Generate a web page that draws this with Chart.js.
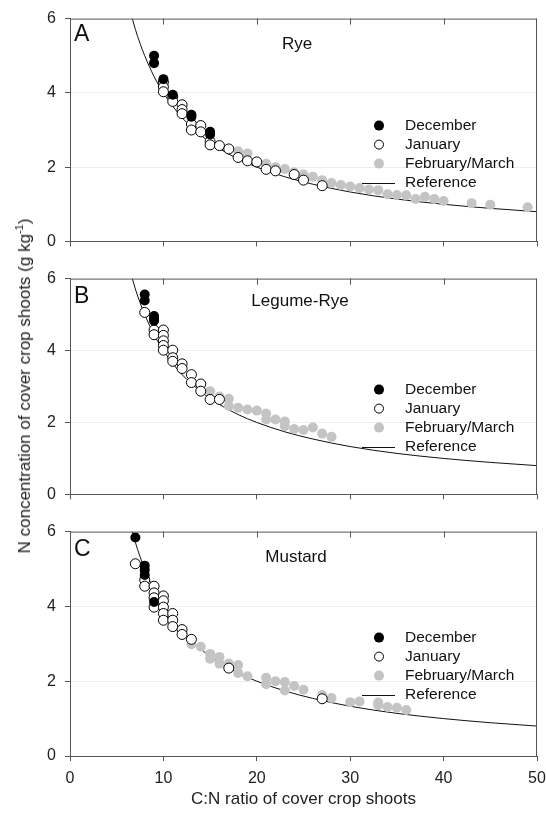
<!DOCTYPE html>
<html>
<head>
<meta charset="utf-8">
<script src="https://cdn.jsdelivr.net/npm/chart.js@4"></script>
<style>
  body { margin: 0; background: #fff; }
  #wrap { position: relative; width: 546px; height: 820px; font-family: "Liberation Sans", Arial, sans-serif; }
  canvas { position: absolute; left: 0; }
  #ytitle {
    position: absolute; left: 25px; top: 386px;
    transform: translate(-50%, -50%) rotate(-90deg);
    white-space: nowrap; font-size: 17px; color: #222;
  }
  #ytitle sup { font-size: 11px; line-height: 0; }
</style>
</head>
<body>
<div id="wrap">
  <canvas id="chartA" width="546" height="260" style="top:0px"></canvas>
  <canvas id="chartB" width="546" height="253" style="top:260px"></canvas>
  <canvas id="chartC" width="546" height="307" style="top:513px"></canvas>
  <div id="ytitle">N concentration of cover crop shoots (g kg<sup>-1</sup>)</div>
</div>
<script>
// tick labels
const xTicks = [0, 10, 20, 30, 40, 50];
const yTicks = [0, 2, 4, 6];
const seriesNames = ['December', 'January', 'February/March', 'Reference'];

// reference curve
const refX = [6.67, 7, 7.5, 8, 9, 10, 11, 12, 14, 16, 18, 20, 23, 26, 30, 35, 40, 45, 50];
const refY = [6.0, 5.71, 5.33, 5.0, 4.44, 4.0, 3.64, 3.33, 2.86, 2.5, 2.22, 2.0, 1.74, 1.54, 1.33, 1.14, 1.0, 0.89, 0.8];

// A - Rye
const ryeDecember = [[9,5.0],[9,4.8],[10,4.37],[11,3.95],[13,3.41],[13,3.36],[15,2.95],[15,2.88]];
const ryeJanuary = [[10,4.29],[10,4.16],[10,4.03],[11,3.9],[11,3.77],[12,3.68],[12,3.55],[12,3.44],[13,3.16],[13,3.0],
  [14,3.12],[14,2.95],[15,2.69],[15,2.6],[16,2.58],[17,2.49],[18,2.26],[19,2.17],[20,2.14],[21,1.94],[22,1.9],[24,1.8],[25,1.65],[27,1.5]];
const ryeFebMar = [[18,2.43],[19,2.37],[21,2.09],[22,2.0],[23,1.95],[24,1.86],[25,1.8],[26,1.74],[27,1.65],[28,1.57],[29,1.52],
  [30,1.48],[31,1.44],[32,1.4],[33,1.38],[34,1.27],[35,1.25],[36,1.24],[37,1.14],[38,1.2],[39,1.14],[40,1.09],[43,1.03],[45,0.99],[49,0.92]];

// B - Legume-Rye
const legDecember = [[8,5.56],[8,5.39],[9,4.96],[9,4.88],[9,4.83]];
const legJanuary = [[8,5.06],[9,4.57],[9,4.44],[10,4.57],[10,4.42],[10,4.27],[10,4.14],[10,4.01],[11,4.01],[11,3.8],[11,3.7],
  [12,3.63],[12,3.5],[13,3.33],[13,3.11],[14,3.07],[14,2.87],[15,2.64],[16,2.64]];
const legFebMar = [[15,2.87],[16,2.72],[17,2.66],[17,2.46],[18,2.41],[19,2.36],[20,2.33],[21,2.25],[21,2.08],[22,2.08],
  [23,2.03],[23,1.9],[24,1.82],[25,1.79],[26,1.86],[27,1.69],[28,1.6]];

// C - Mustard
const musDecember = [[7,5.84],[8,5.09],[8,4.97],[8,4.84],[9,4.12]];
const musJanuary = [[7,5.14],[8,4.71],[8,4.54],[9,4.54],[9,4.36],[9,4.23],[9,3.98],[10,4.28],[10,4.15],[10,3.98],[10,3.81],
  [10,3.63],[11,3.81],[11,3.63],[11,3.46],[12,3.38],[12,3.25],[13,3.12],[17,2.35],[27,1.53]];
const musFebMar = [[13,2.99],[14,2.92],[15,2.73],[15,2.6],[16,2.65],[16,2.47],[17,2.47],[18,2.43],[18,2.22],[19,2.13],
  [21,2.09],[21,1.92],[22,2.0],[23,1.98],[23,1.75],[24,1.87],[25,1.77],[27,1.63],[28,1.55],[30,1.44],[31,1.46],
  [33,1.43],[33,1.36],[34,1.31],[35,1.29],[36,1.23]];

const FONT = '"Liberation Sans", Arial, sans-serif';
const AXIS = '#555';
const GRAY = '#c4c4c4';

function pts(arr) { return arr.map(p => ({ x: p[0], y: p[1] })); }

// top/right frame, inner top ticks, panel letter + title, legend
const panelDeco = {
  id: 'panelDeco',
  afterDraw(chart, args, o) {
    const { ctx, chartArea: a, scales: { x } } = chart;
    ctx.save();
    ctx.strokeStyle = AXIS;
    ctx.lineWidth = 1;
    ctx.beginPath();
    ctx.moveTo(a.left, a.top + 0.5); ctx.lineTo(a.right, a.top + 0.5);
    ctx.moveTo(a.right - 0.5, a.top); ctx.lineTo(a.right - 0.5, a.bottom);
    xTicks.slice(1, -1).forEach(v => {
      const px = Math.round(x.getPixelForValue(v)) + 0.5;
      ctx.moveTo(px, a.top); ctx.lineTo(px, a.top + 6);
    });
    ctx.stroke();

    ctx.fillStyle = '#111';
    ctx.textBaseline = 'alphabetic';
    ctx.font = '23px ' + FONT;
    ctx.fillText(o.letter, a.left + 4, a.top + o.letterY);
    ctx.font = '17px ' + FONT;
    ctx.textAlign = 'center';
    ctx.textBaseline = 'middle';
    ctx.fillText(o.title, o.titleX, a.top + o.titleY);

    // legend
    ctx.textAlign = 'left';
    ctx.font = '15.5px ' + FONT;
    const mx = 379, tx = 405;
    seriesNames.forEach((name, i) => {
      const y = a.top + o.legendY + i * 19;
      ctx.beginPath();
      if (i === 0) {
        ctx.fillStyle = '#000';
        ctx.arc(mx, y, 5, 0, Math.PI * 2); ctx.fill();
      } else if (i === 1) {
        ctx.fillStyle = '#fff'; ctx.strokeStyle = '#000';
        ctx.arc(mx, y, 4.5, 0, Math.PI * 2); ctx.fill(); ctx.stroke();
      } else if (i === 2) {
        ctx.fillStyle = GRAY;
        ctx.arc(mx, y, 5, 0, Math.PI * 2); ctx.fill();
      } else {
        ctx.strokeStyle = '#111';
        ctx.moveTo(362, Math.round(y) + 0.5); ctx.lineTo(395, Math.round(y) + 0.5); ctx.stroke();
      }
      ctx.fillStyle = '#111';
      ctx.fillText(name, tx, y);
    });
    ctx.restore();
  }
};

function makePanel(id, cfg) {
  const refLine = refX.map((v, i) => ({ x: v, y: refY[i] }));
  return new Chart(document.getElementById(id), {
    type: 'scatter',
    data: {
      datasets: [
        { label: 'Reference', data: refLine, showLine: true, pointRadius: 0, borderColor: '#111', borderWidth: 1,
          cubicInterpolationMode: 'monotone', order: 4 },
        { label: 'February/March', data: pts(cfg.feb), pointRadius: 5, backgroundColor: GRAY, borderColor: GRAY,
          borderWidth: 0, order: 3 },
        { label: 'January', data: pts(cfg.jan), pointRadius: 5, backgroundColor: '#fff', borderColor: '#000',
          borderWidth: 1, order: 2 },
        { label: 'December', data: pts(cfg.dec), pointRadius: 5, backgroundColor: '#000', borderColor: '#000',
          borderWidth: 0, order: 1 }
      ]
    },
    options: {
      responsive: false,
      animation: false,
      events: [],
      layout: { padding: { top: cfg.padTop, right: 9, left: 0, bottom: 0 } },
      plugins: {
        legend: { display: false },
        tooltip: { enabled: false },
        panelDeco: cfg.deco
      },
      scales: {
        x: {
          type: 'linear', min: 0, max: 50,
          afterBuildTicks: s => { s.ticks = xTicks.map(v => ({ value: v })); },
          afterFit: s => { s.height = cfg.xHeight; s.paddingRight = 0; s.paddingLeft = 0; },
          border: { color: AXIS, width: 1 },
          grid: { drawOnChartArea: false, tickColor: AXIS, tickLength: 5 },
          ticks: { display: cfg.showX, padding: 8, color: '#222', font: { family: FONT, size: 16 } },
          title: {
            display: cfg.showX, text: 'C:N ratio of cover crop shoots', color: '#222',
            font: { family: FONT, size: 17 }, padding: { top: 0, bottom: 10 }
          }
        },
        y: {
          type: 'linear', min: 0, max: 6,
          afterBuildTicks: s => { s.ticks = yTicks.map(v => ({ value: v })); },
          afterFit: s => { s.width = 70; },
          border: { color: AXIS, width: 1 },
          grid: {
            color: c => (c.tick && (c.tick.value === 2 || c.tick.value === 4)) ? '#ececec' : 'rgba(0,0,0,0)',
            tickColor: AXIS, tickLength: 5
          },
          ticks: { padding: 9, color: '#222', font: { family: FONT, size: 16 } }
        }
      }
    },
    plugins: [panelDeco]
  });
}

makePanel('chartA', {
  padTop: 17, xHeight: 11, showX: false,
  dec: ryeDecember, jan: ryeJanuary, feb: ryeFebMar,
  deco: { letter: 'A', letterY: 22, title: 'Rye', titleX: 297, titleY: 26, legendY: 107 }
});
makePanel('chartB', {
  padTop: 10, xHeight: 11, showX: false,
  dec: legDecember, jan: legJanuary, feb: legFebMar,
  deco: { letter: 'B', letterY: 24, title: 'Legume-Rye', titleX: 300, titleY: 23, legendY: 111 }
});
makePanel('chartC', {
  padTop: 10, xHeight: 64, showX: true,
  dec: musDecember, jan: musJanuary, feb: musFebMar,
  deco: { letter: 'C', letterY: 24, title: 'Mustard', titleX: 296, titleY: 26, legendY: 106 }
});
</script>
</body>
</html>
